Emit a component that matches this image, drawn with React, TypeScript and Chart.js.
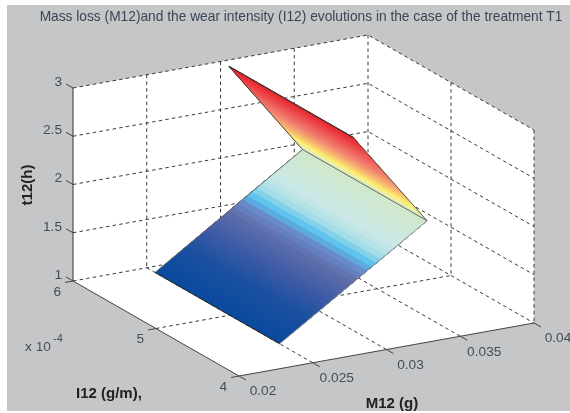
import React, { useEffect, useRef } from "react";
import { Chart, registerables } from "chart.js";

Chart.register(...registerables);

// Surface data
const t12Rows = [1, 2, 3];
const m12Rows = [0.025, 0.035, 0.03];
const i12Cols = [4.4, 5.9];

// Axes
const m12Ticks = [0.02, 0.025, 0.03, 0.035, 0.04];
const m12TickLabels = ["0.02", "0.025", "0.03", "0.035", "0.04"];
const i12Ticks = [4, 5, 6];
const i12TickLabels = ["4", "5", "6"];
const t12Ticks = [1, 1.5, 2, 2.5, 3];
const t12TickLabels = ["1", "1.5", "2", "2.5", "3"];

const TITLE = "Mass loss (M12)and the wear intensity (I12) evolutions in the case of the treatment T1";

// Colour map: height -> colour
const mapLevels = [1, 1.2, 1.35, 1.5, 1.58, 1.63, 1.7, 1.78, 2, 2.08, 2.15, 2.3, 2.5, 2.75, 3];
const mapColors = [
  [10, 74, 158], [26, 80, 160], [63, 91, 166], [95, 110, 172], [106, 140, 203],
  [82, 192, 238], [164, 221, 230], [201, 232, 232], [208, 232, 200], [240, 240, 160],
  [253, 238, 108], [248, 184, 112], [242, 128, 112], [238, 80, 80], [230, 36, 44],
];

function colorAt(z: number) {
  let k = 0;
  while (k < mapLevels.length - 2 && z > mapLevels[k + 1]) k++;
  const f = Math.min(1, Math.max(0, (z - mapLevels[k]) / (mapLevels[k + 1] - mapLevels[k])));
  const c = mapColors[k].map((v, j) => Math.round(v + (mapColors[k + 1][j] - v) * f));
  return `rgb(${c[0]},${c[1]},${c[2]})`;
}

// Fixed view of the 3D box: data -> chart units
function view(m: number, i: number, t: number) {
  return {
    x: 239 + ((m - 0.02) / 0.02) * 295 - ((i - 4) / 2) * 166,
    y: 376 - ((m - 0.02) / 0.02) * 53 - ((i - 4) / 2) * 95 - ((t - 1) / 2) * 193,
  };
}

const TITLE_SIZE = 13.76;
const TITLE_PAD_TOP = 9;
const TITLE_H = 35;
const LEFT = 32;
const BANDS = 32;

type P = { x: number; y: number };

function buildDatasets() {
  const list: any[] = [];
  const line = (pts: P[], color: string, width = 1, dash: number[] = []) =>
    list.push({
      data: pts, showLine: true, fill: false, borderColor: color, borderWidth: width,
      borderDash: dash, pointRadius: 0, tension: 0, clip: false, borderCapStyle: "butt",
    });
  const poly = (pts: P[], color: string) =>
    list.push({
      data: pts, showLine: true, fill: "shape", backgroundColor: color, borderWidth: 0,
      borderColor: "transparent", pointRadius: 0, tension: 0, clip: false,
    });

  const [mLo, mHi] = [m12Ticks[0], m12Ticks[m12Ticks.length - 1]];
  const [iLo, iHi] = [i12Ticks[0], i12Ticks[i12Ticks.length - 1]];
  const [tLo, tHi] = [t12Ticks[0], t12Ticks[t12Ticks.length - 1]];

  // Box interior
  poly(
    [view(mLo, iHi, tLo), view(mLo, iHi, tHi), view(mHi, iHi, tHi), view(mHi, iLo, tHi), view(mHi, iLo, tLo), view(mLo, iLo, tLo)],
    "#ffffff"
  );

  // Dashed grid
  const dash = [3.5, 3.2];
  const gridColor = "#3a3a3a";
  t12Ticks.forEach((t) => line([view(mLo, iHi, t), view(mHi, iHi, t), view(mHi, iLo, t)], gridColor, 1, dash));
  m12Ticks.forEach((m) => {
    if (m !== mLo) line([view(m, iHi, tHi), view(m, iHi, tLo)], gridColor, 1, dash);
    if (m !== mLo && m !== mHi) line([view(m, iHi, tLo), view(m, iLo, tLo)], gridColor, 1, dash);
  });
  i12Ticks.forEach((i) => {
    if (i !== iHi) line([view(mHi, i, tHi), view(mHi, i, tLo)], gridColor, 1, dash);
    if (i !== iHi && i !== iLo) line([view(mLo, i, tLo), view(mHi, i, tLo)], gridColor, 1, dash);
  });

  // Solid axes
  line([view(mLo, iHi, tLo), view(mLo, iHi, tHi)], "#333333", 1);
  line([view(mLo, iHi, tLo), view(mLo, iLo, tLo)], "#444444", 1);
  line([view(mLo, iLo, tLo), view(mHi, iLo, tLo)], "#444444", 1);

  // Tick marks, outward
  const tick = 8;
  const iDir = { x: -0.87, y: -0.5 };
  const mDir = { x: -0.98, y: 0.18 };
  t12Ticks.forEach((t) => {
    const a = view(mLo, iHi, t);
    line([a, { x: a.x + iDir.x * tick, y: a.y + iDir.y * tick }], "#444444", 1);
  });
  i12Ticks.forEach((i) => {
    const a = view(mLo, i, tLo);
    line([a, { x: a.x + mDir.x * tick, y: a.y + mDir.y * tick }], "#444444", 1);
  });
  m12Ticks.forEach((m) => {
    const a = view(m, iLo, tLo);
    line([a, { x: a.x - iDir.x * tick, y: a.y - iDir.y * tick }], "#444444", 1);
  });

  // Surface
  const [i0, i1] = i12Cols;
  for (let r = 0; r < t12Rows.length - 1; r++) {
    const mA = m12Rows[r], mB = m12Rows[r + 1], tA = t12Rows[r], tB = t12Rows[r + 1];
    for (let b = 0; b < BANDS; b++) {
      const f = b / BANDS;
      const m = mA + (mB - mA) * f;
      const t = tA + (tB - tA) * f;
      poly(
        [view(m, i0, t), view(m, i1, t), view(mB, i1, tB), view(mB, i0, tB), view(m, i0, t)],
        colorAt(tA + (tB - tA) * (f + 0.5 / BANDS))
      );
    }
  }

  // Surface edges
  const edge = (r: number, i: number) => view(m12Rows[r], i, t12Rows[r]);
  line([edge(0, i1), edge(1, i1)], "#6a6a6a", 1);
  line([edge(0, i0), edge(1, i0)], "#8a8a8a", 1);
  line([edge(0, i0), edge(0, i1)], "#222222", 1);
  line([edge(1, i0), edge(1, i1)], "#666666", 1);
  line([edge(1, i1), edge(2, i1)], "#444444", 1);
  line([edge(2, i0), edge(2, i1)], "#333333", 1.2);
  line([edge(1, i0), edge(2, i0)], "#555555", 1);

  // First dataset is painted last by Chart.js
  return list.reverse();
}

const frame = {
  id: "frame",
  beforeDraw(chart: any) {
    const { ctx } = chart;
    ctx.save();
    ctx.fillStyle = "#c5c6c8";
    ctx.fillRect(7, 5, 563, 406);
    ctx.restore();
  },
  afterDraw(chart: any) {
    const { ctx, scales } = chart;
    const sx = (v: number) => scales.x.getPixelForValue(v);
    const sy = (v: number) => scales.y.getPixelForValue(v);
    const ink = "#454d58";
    const tickFont = "13.7px 'Liberation Sans'";
    const put = (s: string, x: number, y: number, font = tickFont, align: CanvasTextAlign = "center", color = ink) => {
      ctx.font = font;
      ctx.textAlign = align;
      ctx.textBaseline = "middle";
      ctx.fillStyle = color;
      ctx.fillText(s, x, y);
    };
    ctx.save();
    const mLo = m12Ticks[0], iLo = i12Ticks[0], iHi = i12Ticks[i12Ticks.length - 1], tLo = t12Ticks[0];
    t12Ticks.forEach((t, k) => {
      const a = view(mLo, iHi, t);
      put(t12TickLabels[k], sx(a.x - 11), sy(a.y - 6), undefined, "right");
    });
    i12Ticks.forEach((i, k) => {
      const a = view(mLo, i, tLo);
      put(i12TickLabels[k], sx(a.x - 12), sy(a.y + 11), undefined, "right");
    });
    m12Ticks.forEach((m, k) => {
      const a = view(m, iLo, tLo);
      put(m12TickLabels[k], sx(a.x + 24), sy(a.y + 15.5));
    });
    put("x 10", sx(25), sy(347), undefined, "left");
    put("-4", sx(53), sy(339), "11px 'Liberation Sans'", "left");
    const bold = "bold 15px 'Liberation Sans'";
    put("I12 (g/m),", sx(76), sy(394), bold, "left", "#222222");
    put("M12 (g)", sx(392), sy(404), bold, "center", "#222222");
    ctx.translate(sx(28), sy(185));
    ctx.rotate(-Math.PI / 2);
    put("t12(h)", 0, 0, bold, "center", "#222222");
    ctx.restore();
  },
};

export default function App() {
  const ref = useRef<HTMLCanvasElement | null>(null);
  useEffect(() => {
    document.body.style.margin = "0";
    const chart = new Chart(ref.current as HTMLCanvasElement, {
      type: "scatter",
      data: { datasets: buildDatasets() },
      options: {
        animation: false,
        responsive: false,
        layout: { padding: { left: LEFT } },
        scales: {
          x: { type: "linear", display: false, min: LEFT, max: 570 },
          y: { type: "linear", display: false, min: TITLE_H, max: 413, reverse: true },
        },
        plugins: {
          legend: { display: false },
          tooltip: { enabled: false },
          title: {
            display: true,
            text: TITLE,
            color: "#3a4656",
            font: { family: "'Liberation Sans'", size: TITLE_SIZE, weight: "normal", lineHeight: 1.2 },
            padding: { top: TITLE_PAD_TOP, bottom: TITLE_H - TITLE_PAD_TOP - TITLE_SIZE * 1.2 },
          },
        },
      },
      plugins: [frame],
    } as any);
    return () => chart.destroy();
  }, []);
  return <canvas ref={ref} width={570} height={413} style={{ display: "block" }} />;
}
